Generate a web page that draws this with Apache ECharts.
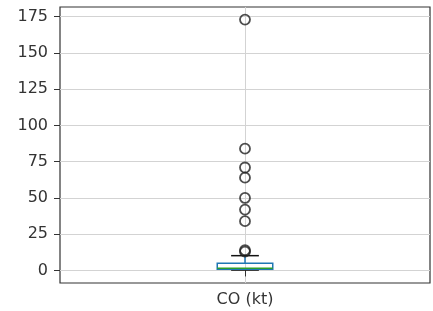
<!DOCTYPE html>
<html>
<head>
<meta charset="utf-8">
<script src="https://cdn.jsdelivr.net/npm/echarts@6.0.0/dist/echarts.min.js"></script>
<style>
  html, body { margin: 0; padding: 0; background: #fff; }
  #chart { width: 433px; height: 311px; }
</style>
</head>
<body>
<div id="chart"></div>
<script>
// box stats: [min whisker, q1, median, q3, max whisker]
var categories = ['CO (kt)'];
var boxStats = [[0.3, 0.9, 1.6, 5.0, 10.2]];
var outliers = [173, 84, 71, 64, 50, 42, 34, 14, 13];
var yTicks = [0, 25, 50, 75, 100, 125, 150, 175];

var boxData = boxStats.map(function (s, i) { return [i + 1].concat(s); });
var outlierData = outliers.map(function (v) { return [1, v]; });

var myChart = echarts.init(document.getElementById('chart'));

function renderBox(params, api) {
  var x = api.value(0);
  var lo = api.coord([x, api.value(1)]);
  var q1 = api.coord([x, api.value(2)]);
  var med = api.coord([x, api.value(3)]);
  var q3 = api.coord([x, api.value(4)]);
  var hi = api.coord([x, api.value(5)]);
  var halfW = api.size([0.15, 0])[0];
  var capW = halfW / 2;
  var cx = lo[0];
  return {
    type: 'group',
    children: [
      { type: 'line', shape: { x1: cx, y1: q3[1], x2: cx, y2: hi[1] }, style: { stroke: '#1f77b4', lineWidth: 1.5 } },
      { type: 'line', shape: { x1: cx, y1: q1[1], x2: cx, y2: lo[1] }, style: { stroke: '#1f77b4', lineWidth: 1.5 } },
      { type: 'line', shape: { x1: cx - capW, y1: hi[1], x2: cx + capW, y2: hi[1] }, style: { stroke: '#111', lineWidth: 1.5 } },
      { type: 'line', shape: { x1: cx - capW, y1: lo[1], x2: cx + capW, y2: lo[1] }, style: { stroke: '#111', lineWidth: 1.5 } },
      { type: 'rect', shape: { x: cx - halfW, y: q3[1], width: halfW * 2, height: q1[1] - q3[1] }, style: { fill: 'none', stroke: '#1f77b4', lineWidth: 1.5 } },
      { type: 'line', shape: { x1: cx - halfW, y1: med[1], x2: cx + halfW, y2: med[1] }, style: { stroke: '#2ca02c', lineWidth: 1.5 } }
    ]
  };
}

var option = {
  animation: false,
  grid: {
    left: 60, right: 3, top: 7, bottom: 28,
    show: true, borderColor: '#333', borderWidth: 1.2, backgroundColor: 'transparent'
  },
  xAxis: {
    type: 'value',
    min: 0, max: 2, interval: 1,
    axisLine: { show: false },
    axisTick: { show: true, length: 6, lineStyle: { color: '#333' }, customValues: [1] },
    axisLabel: {
      customValues: [1],
      formatter: function (v) { return categories[v - 1] || ''; },
      color: '#333', fontSize: 16, fontFamily: 'DejaVu Sans', margin: 9
    },
    splitLine: { show: true, lineStyle: { color: '#d3d3d3', width: 1 } }
  },
  yAxis: {
    type: 'value',
    min: -8.65, max: 181.7,
    axisLine: { show: false },
    axisTick: { show: true, length: 6, lineStyle: { color: '#333' }, customValues: yTicks },
    axisLabel: {
      customValues: yTicks,
      color: '#333', fontSize: 16, fontFamily: 'DejaVu Sans', margin: 12
    },
    splitLine: { show: true, lineStyle: { color: '#d3d3d3', width: 1.2 } }
  },
  series: [
    {
      type: 'custom',
      renderItem: renderBox,
      encode: { x: 0, y: [1, 2, 3, 4, 5] },
      data: boxData,
      z: 3
    },
    {
      type: 'scatter',
      data: outlierData,
      symbol: 'circle',
      symbolSize: 10,
      itemStyle: { color: 'transparent', borderColor: '#222', borderWidth: 1.8 },
      z: 4
    }
  ]
};
myChart.setOption(option, true);
</script>
</body>
</html>
